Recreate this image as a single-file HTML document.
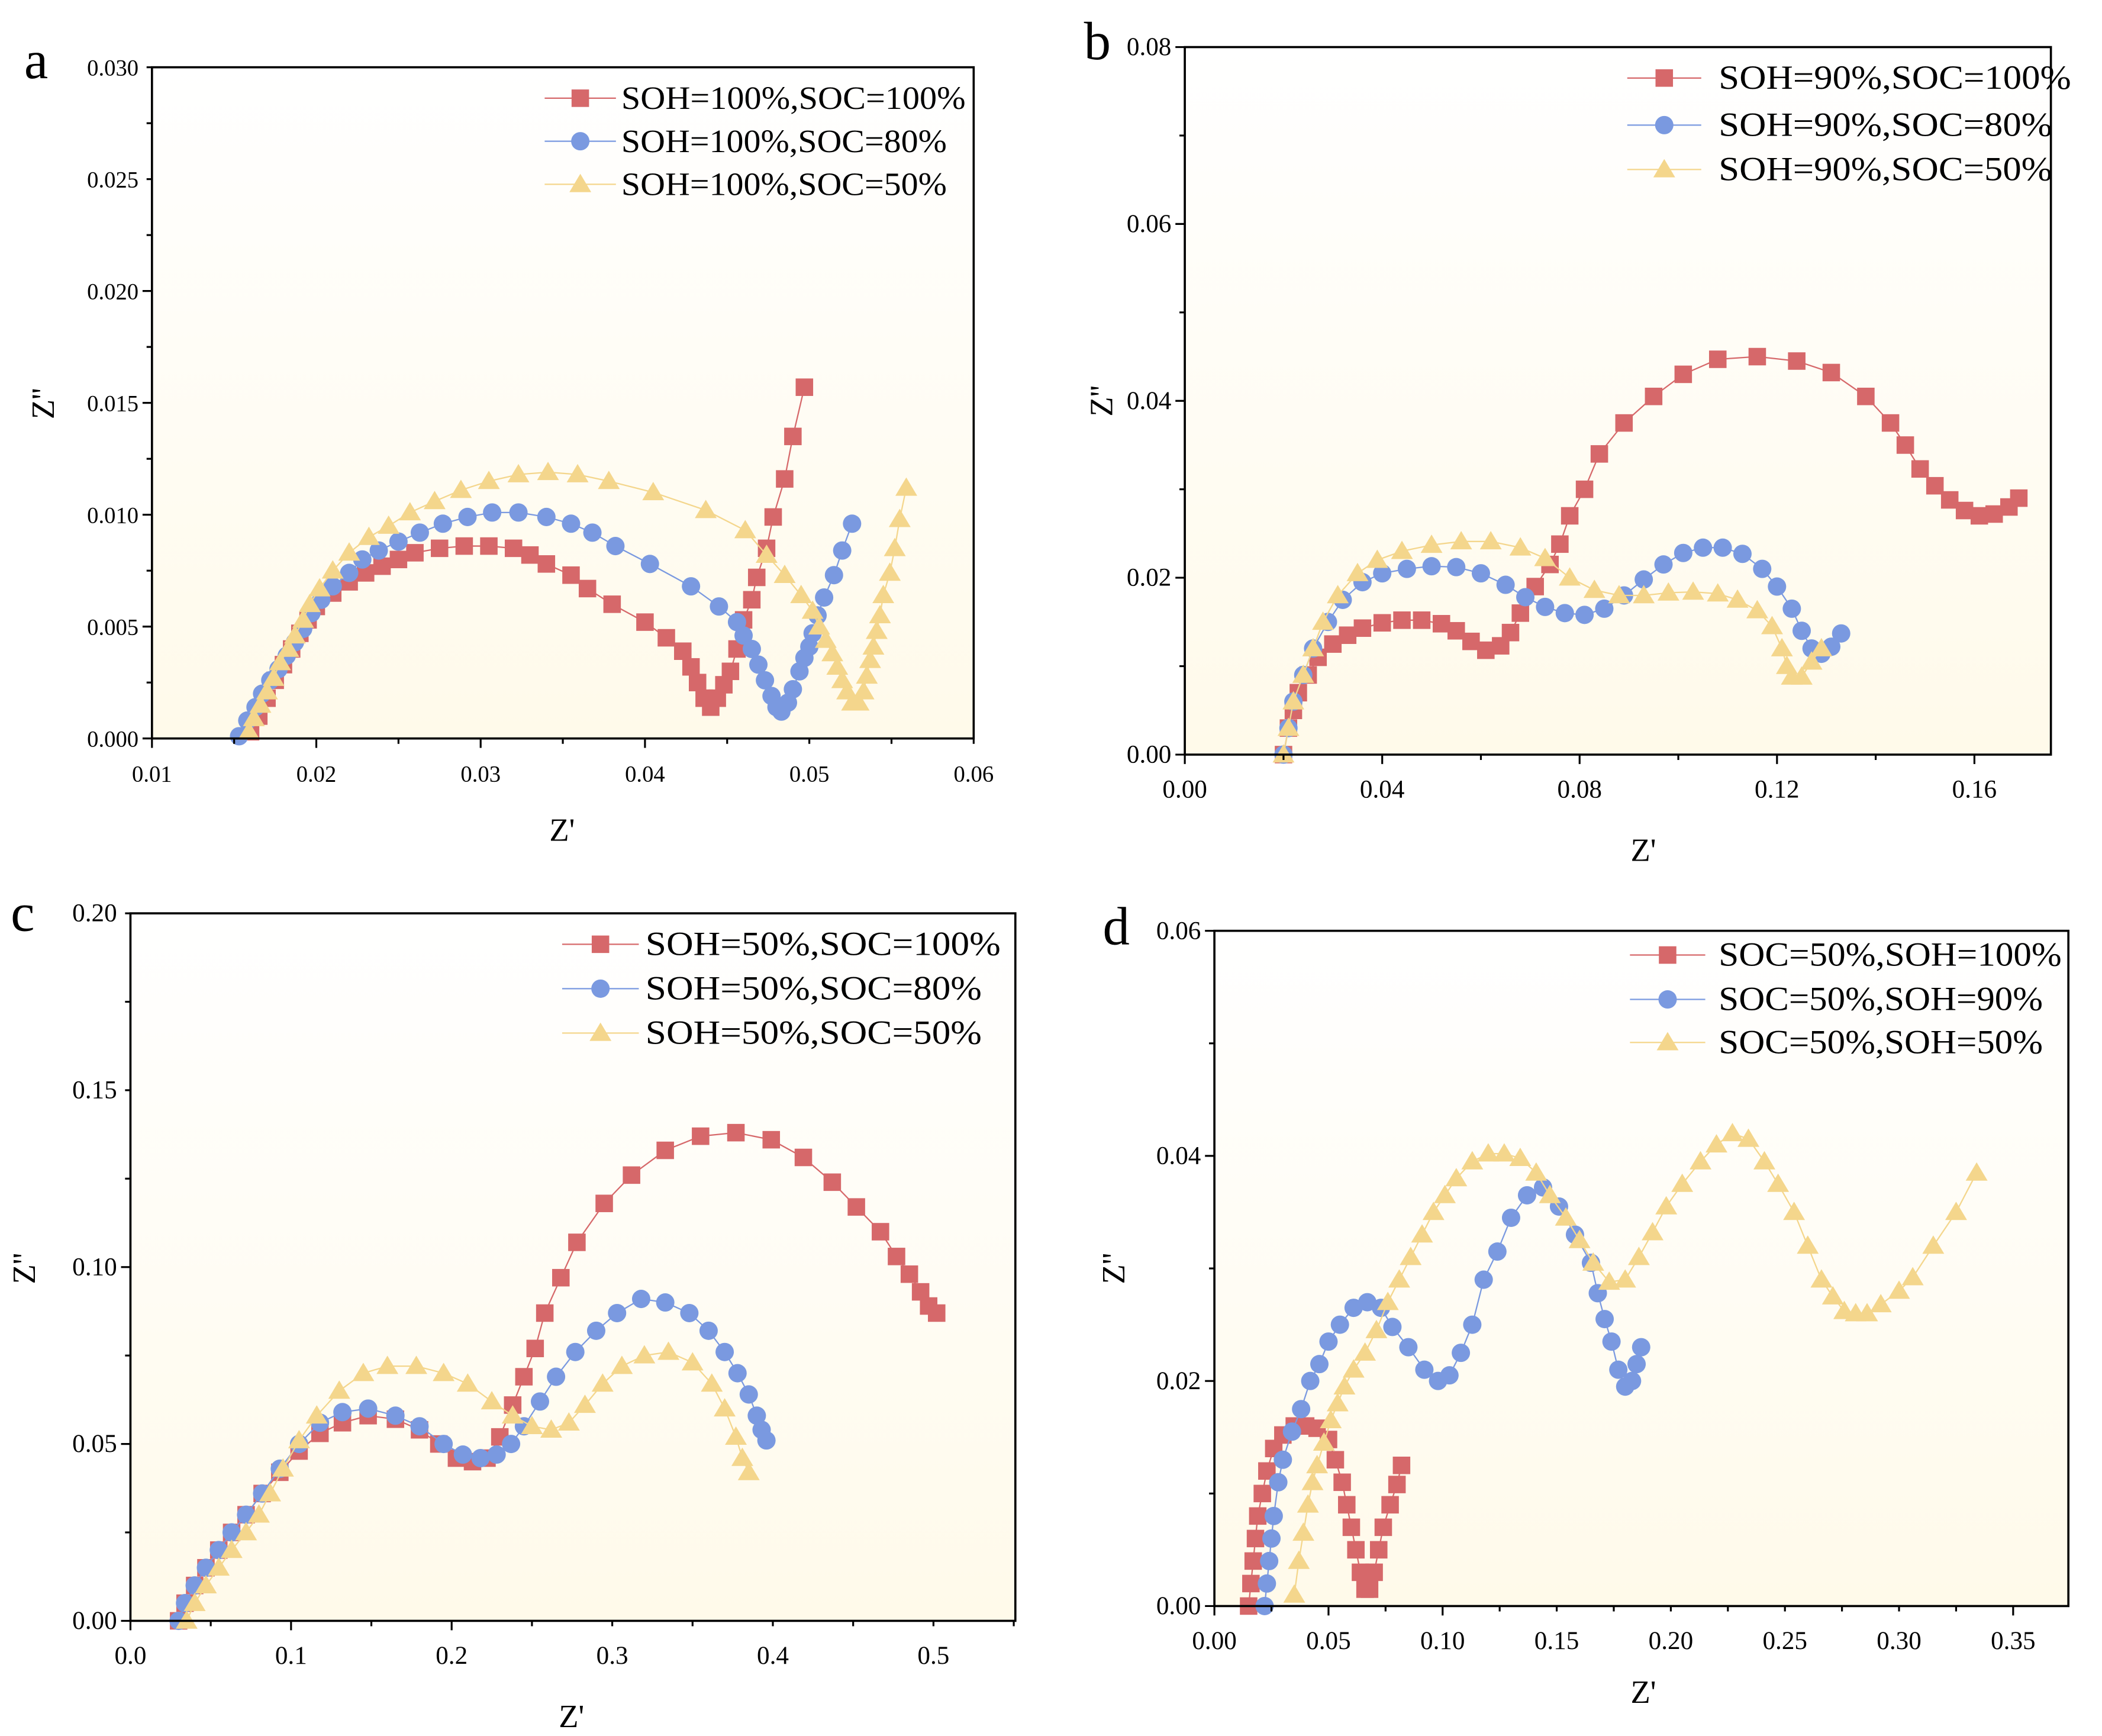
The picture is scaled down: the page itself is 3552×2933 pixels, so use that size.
<!DOCTYPE html>
<html><head><meta charset="utf-8"><style>
html,body{margin:0;padding:0;background:#fff}
svg{display:block}
text{font-family:"Liberation Serif",serif;fill:#000}
</style></head><body>
<svg id="fig" width="3552" height="2933" viewBox="0 0 1563 1290.6" xmlns="http://www.w3.org/2000/svg">
<defs>
<linearGradient id="bg" x1="0" y1="0" x2="0" y2="1"><stop offset="0" stop-color="#ffffff"/><stop offset="1" stop-color="#fffaea"/></linearGradient>
</defs>
</svg>
<script>
// ---- data (Z', Z'') ----
const aRedX=[0.0160,0.0165,0.017,0.0175,0.018,0.0185,0.019,0.0195,0.020,0.021,0.022,0.023,0.024,0.025,0.026,0.0275,0.029,0.0305,0.032,0.033,0.034,0.0355,0.0365,0.038,0.040,0.0413,0.0423,0.0428,0.0432,0.0436,0.044,0.0444,0.0448,0.0452,0.0456,0.046,0.0465,0.0468,0.0474,0.0478,0.0485,0.049,0.0497];
const aRedY=[0.0003,0.0010,0.0018,0.0026,0.0033,0.0040,0.0047,0.0053,0.0059,0.0065,0.0070,0.0074,0.0077,0.0080,0.0083,0.0085,0.0086,0.0086,0.0085,0.0082,0.0078,0.0073,0.0067,0.0060,0.0052,0.0045,0.0039,0.0032,0.0025,0.0018,0.0014,0.0018,0.0024,0.0030,0.0040,0.0053,0.0062,0.0072,0.0085,0.0099,0.0116,0.0135,0.0157];
const aBlueX=[0.0153,0.0158,0.0163,0.0167,0.0172,0.0177,0.0182,0.0187,0.0192,0.0197,0.0203,0.021,0.022,0.0228,0.0238,0.025,0.0263,0.0277,0.0292,0.0307,0.0323,0.034,0.0355,0.0368,0.0382,0.0403,0.0428,0.0445,0.0456,0.046,0.0465,0.0469,0.0473,0.0477,0.048,0.0483,0.0487,0.049,0.0494,0.0497,0.05,0.0502,0.0505,0.0509,0.0515,0.052,0.0526];
const aBlueY=[0.0001,0.0008,0.0014,0.0020,0.0026,0.0031,0.0037,0.0043,0.0049,0.0056,0.0062,0.0068,0.0074,0.0080,0.0084,0.0088,0.0092,0.0096,0.0099,0.0101,0.0101,0.0099,0.0096,0.0092,0.0086,0.0078,0.0068,0.0059,0.0052,0.0046,0.0040,0.0033,0.0026,0.0019,0.0014,0.0012,0.0016,0.0022,0.0030,0.0036,0.0041,0.0047,0.0055,0.0063,0.0073,0.0084,0.0096];
const aYelX=[0.0159,0.0162,0.0166,0.017,0.0174,0.0178,0.0183,0.0187,0.0192,0.0196,0.0202,0.021,0.022,0.0232,0.0244,0.0257,0.0272,0.0288,0.0305,0.0323,0.0341,0.0359,0.0378,0.0405,0.0437,0.0461,0.0474,0.0485,0.0495,0.0502,0.0506,0.051,0.0514,0.0517,0.052,0.0523,0.0526,0.053,0.0533,0.0535,0.0537,0.0539,0.0541,0.0543,0.0545,0.0549,0.0552,0.0555,0.0559];
const aYelY=[0.0003,0.0009,0.0015,0.0021,0.0027,0.0034,0.0040,0.0046,0.0053,0.0060,0.0067,0.0075,0.0083,0.0090,0.0095,0.0101,0.0106,0.0111,0.0115,0.0118,0.0119,0.0118,0.0115,0.0110,0.0102,0.0093,0.0082,0.0073,0.0064,0.0057,0.0050,0.0044,0.0038,0.0032,0.0026,0.0021,0.0016,0.0016,0.0021,0.0028,0.0035,0.0041,0.0048,0.0055,0.0064,0.0074,0.0085,0.0098,0.0112];

const bRedX=[0.020,0.021,0.022,0.023,0.025,0.027,0.030,0.033,0.036,0.040,0.044,0.048,0.052,0.055,0.058,0.061,0.064,0.066,0.068,0.071,0.074,0.076,0.078,0.081,0.084,0.089,0.095,0.101,0.108,0.116,0.124,0.131,0.138,0.143,0.146,0.149,0.152,0.155,0.158,0.161,0.164,0.167,0.169];
const bRedY=[0.000,0.003,0.005,0.007,0.009,0.011,0.0125,0.0135,0.0143,0.0149,0.0152,0.0152,0.0148,0.0140,0.0128,0.0118,0.0123,0.0138,0.0160,0.019,0.0215,0.0238,0.027,0.030,0.034,0.0375,0.0405,0.043,0.0447,0.0450,0.0445,0.0432,0.0405,0.0375,0.0350,0.0323,0.0304,0.0288,0.0276,0.0270,0.0272,0.0280,0.0290];
const bBlueX=[0.020,0.021,0.022,0.024,0.026,0.029,0.032,0.036,0.040,0.045,0.050,0.055,0.060,0.065,0.069,0.073,0.077,0.081,0.085,0.089,0.093,0.097,0.101,0.105,0.109,0.113,0.117,0.120,0.123,0.125,0.127,0.129,0.131,0.133];
const bBlueY=[0.000,0.003,0.006,0.009,0.012,0.015,0.0175,0.0195,0.0205,0.0210,0.0213,0.0212,0.0205,0.0192,0.0178,0.0167,0.0160,0.0158,0.0165,0.0180,0.0198,0.0215,0.0228,0.0234,0.0234,0.0227,0.0210,0.0190,0.0165,0.0140,0.0120,0.0114,0.0122,0.0137];
const bYelX=[0.020,0.021,0.022,0.024,0.026,0.028,0.031,0.035,0.039,0.044,0.050,0.056,0.062,0.068,0.073,0.078,0.083,0.088,0.093,0.098,0.103,0.108,0.112,0.116,0.119,0.121,0.122,0.123,0.125,0.127,0.129];
const bYelY=[0.000,0.003,0.006,0.009,0.012,0.015,0.018,0.0205,0.022,0.023,0.0237,0.0241,0.0241,0.0234,0.0222,0.020,0.0186,0.0180,0.0180,0.0183,0.0184,0.0182,0.0175,0.0163,0.0145,0.0120,0.0100,0.0088,0.0088,0.0105,0.0120];

const cRedX=[0.030,0.034,0.040,0.047,0.055,0.063,0.072,0.082,0.093,0.105,0.118,0.132,0.148,0.165,0.180,0.192,0.203,0.213,0.222,0.230,0.238,0.245,0.252,0.258,0.268,0.278,0.295,0.312,0.333,0.355,0.377,0.399,0.419,0.437,0.452,0.467,0.477,0.485,0.492,0.497,0.502];
const cRedY=[0.000,0.005,0.010,0.015,0.020,0.025,0.030,0.036,0.042,0.048,0.053,0.056,0.058,0.057,0.054,0.050,0.046,0.045,0.046,0.052,0.061,0.069,0.077,0.087,0.097,0.107,0.118,0.126,0.133,0.137,0.138,0.136,0.131,0.124,0.117,0.110,0.103,0.098,0.093,0.089,0.087];
const cBlueX=[0.030,0.034,0.040,0.047,0.055,0.063,0.072,0.082,0.093,0.105,0.118,0.132,0.148,0.165,0.180,0.195,0.207,0.218,0.228,0.237,0.245,0.255,0.265,0.277,0.290,0.303,0.318,0.333,0.348,0.360,0.370,0.378,0.385,0.390,0.393,0.396];
const cBlueY=[0.000,0.005,0.010,0.015,0.020,0.025,0.030,0.036,0.043,0.050,0.056,0.059,0.060,0.058,0.055,0.050,0.047,0.046,0.047,0.050,0.055,0.062,0.069,0.076,0.082,0.087,0.091,0.090,0.087,0.082,0.076,0.070,0.064,0.058,0.054,0.051];
const cYelX=[0.035,0.040,0.047,0.055,0.063,0.072,0.080,0.087,0.095,0.105,0.116,0.130,0.145,0.160,0.178,0.195,0.210,0.225,0.238,0.250,0.262,0.273,0.283,0.294,0.306,0.320,0.335,0.350,0.362,0.370,0.377,0.381,0.385];
const cYelY=[0.000,0.005,0.010,0.015,0.020,0.025,0.030,0.036,0.043,0.051,0.058,0.065,0.070,0.072,0.072,0.070,0.067,0.062,0.058,0.055,0.054,0.056,0.061,0.067,0.072,0.075,0.076,0.073,0.067,0.060,0.052,0.046,0.042];

const dRedX=[0.015,0.016,0.017,0.018,0.019,0.021,0.023,0.026,0.030,0.035,0.040,0.045,0.050,0.053,0.056,0.058,0.060,0.062,0.064,0.066,0.068,0.070,0.072,0.074,0.077,0.080,0.082];
const dRedY=[0.000,0.002,0.004,0.006,0.008,0.010,0.012,0.014,0.0152,0.016,0.016,0.0158,0.0148,0.013,0.011,0.009,0.007,0.005,0.003,0.0015,0.0015,0.003,0.005,0.007,0.009,0.0108,0.0125];
const dBlueX=[0.022,0.023,0.024,0.025,0.026,0.028,0.030,0.034,0.038,0.042,0.046,0.050,0.055,0.061,0.067,0.073,0.078,0.085,0.092,0.098,0.103,0.108,0.113,0.118,0.124,0.130,0.137,0.144,0.151,0.158,0.165,0.168,0.171,0.174,0.177,0.180,0.183,0.185,0.187];
const dBlueY=[0.000,0.002,0.004,0.006,0.008,0.011,0.013,0.0155,0.0175,0.020,0.0215,0.0235,0.025,0.0265,0.027,0.0265,0.0248,0.023,0.021,0.020,0.0205,0.0225,0.025,0.029,0.0315,0.0345,0.0365,0.0372,0.0355,0.0330,0.0305,0.0278,0.0255,0.0235,0.021,0.0195,0.020,0.0215,0.023];
const dYelX=[0.035,0.037,0.039,0.041,0.043,0.045,0.048,0.051,0.054,0.057,0.061,0.066,0.071,0.076,0.081,0.086,0.091,0.096,0.101,0.106,0.113,0.120,0.127,0.134,0.141,0.147,0.154,0.160,0.166,0.173,0.180,0.186,0.192,0.198,0.205,0.213,0.220,0.227,0.234,0.241,0.247,0.254,0.260,0.266,0.271,0.276,0.281,0.286,0.292,0.300,0.306,0.315,0.325,0.334];
const dYelY=[0.001,0.004,0.0065,0.009,0.011,0.0125,0.0145,0.0165,0.018,0.0195,0.021,0.0225,0.0245,0.027,0.029,0.031,0.033,0.035,0.0365,0.038,0.0395,0.0402,0.0402,0.0398,0.0385,0.0365,0.0345,0.0325,0.0305,0.0288,0.0290,0.031,0.0332,0.0355,0.0375,0.0395,0.041,0.042,0.0415,0.0395,0.0375,0.035,0.032,0.029,0.0275,0.0262,0.026,0.026,0.0268,0.028,0.0292,0.032,0.035,0.0385];

const aTicksX=[0.01,0.02,0.03,0.04,0.05,0.06], aTickLabX=["0.01","0.02","0.03","0.04","0.05","0.06"];
const aTicksY=[0,0.005,0.01,0.015,0.02,0.025,0.03], aTickLabY=["0.000","0.005","0.010","0.015","0.020","0.025","0.030"];
const bTicksX=[0,0.04,0.08,0.12,0.16], bTickLabX=["0.00","0.04","0.08","0.12","0.16"];
const bTicksY=[0,0.02,0.04,0.06,0.08], bTickLabY=["0.00","0.02","0.04","0.06","0.08"];
const cTicksX=[0,0.1,0.2,0.3,0.4,0.5], cTickLabX=["0.0","0.1","0.2","0.3","0.4","0.5"];
const cTicksY=[0,0.05,0.1,0.15,0.2], cTickLabY=["0.00","0.05","0.10","0.15","0.20"];
const dTicksX=[0,0.05,0.1,0.15,0.2,0.25,0.3,0.35], dTickLabX=["0.00","0.05","0.10","0.15","0.20","0.25","0.30","0.35"];
const dTicksY=[0,0.02,0.04,0.06], dTickLabY=["0.00","0.02","0.04","0.06"];

const RED="#d6686a", BLUE="#7a99e0", YEL="#f4d68c";
const NS="http://www.w3.org/2000/svg";
const svg=document.getElementById('fig');
function mk(tag,attrs,parent){const e=document.createElementNS(NS,tag);for(const k in attrs)e.setAttribute(k,attrs[k]);(parent||svg).appendChild(e);return e;}

function marker(g,type,x,y,color,s){
  let e;
  if(type==='sq'){e=mk('rect',{x:x-s,y:y-s,width:2*s,height:2*s,fill:color},g);}
  else if(type==='ci'){e=mk('circle',{cx:x,cy:y,r:s*1.05,fill:color},g);}
  else {e=mk('polygon',{points:`${x},${y-s*1.2} ${x-s*1.25},${y+s*0.9} ${x+s*1.25},${y+s*0.9}`,fill:color},g);}
  return e;
}

function panel(p){
  const g=mk('g',{});
  
  
  const sx=v=>p.L+(v-p.x0)/(p.x1-p.x0)*(p.R-p.L);
  const sy=v=>p.B-(v-p.y0)/(p.y1-p.y0)*(p.B-p.T);
  const bg=mk('rect',{x:p.L,y:p.T,width:p.R-p.L,height:p.B-p.T,fill:'url(#bg)'},g);
  
  
  p.series.forEach((s,si)=>{
    const sg=mk('g',{},g);
    
    
    let d='';
    s.x.forEach((xv,i)=>{d+=(i?'L':'M')+sx(xv).toFixed(2)+','+sy(s.y[i]).toFixed(2);});
    mk('path',{d:d,fill:'none',stroke:s.c,'stroke-width':1},sg);
    s.x.forEach((xv,i)=>{
      const m=marker(sg,s.m,sx(xv),sy(s.y[i]),s.c,p.ms);
      
      
    });
  });
  const fr=mk('rect',{x:p.L,y:p.T,width:p.R-p.L,height:p.B-p.T,fill:'none',stroke:'#000','stroke-width':1.6},g);
  
  
  const xa=mk('g',{},g);
  
  
  const mxs=(p.xt[1]-p.xt[0])/2;
  for(let v=p.xt[0];v<=p.x1+1e-9;v+=mxs){
    const X=sx(v); const major=Math.abs(((v-p.xt[0])/mxs)%2)<1e-6;
    if(X<p.L-0.5||X>p.R+0.5)continue;
    mk('line',{x1:X,x2:X,y1:p.B,y2:p.B+(major?7:4),stroke:'#000','stroke-width':1.4},xa);
  }
  p.xt.forEach((v,i)=>{
    const t=mk('text',{x:sx(v),y:p.B+32,'text-anchor':'middle','font-size':p.fs},xa);
    t.textContent=p.xl[i];
    
    
  });
  const ya=mk('g',{},g);
  
  
  const mys=(p.yt[1]-p.yt[0])/2;
  for(let v=p.yt[0];v<=p.y1+1e-9;v+=mys){
    const Y=sy(v); const major=Math.abs(((v-p.yt[0])/mys)%2)<1e-6;
    mk('line',{x1:p.L,x2:p.L-(major?7:4),y1:Y,y2:Y,stroke:'#000','stroke-width':1.4},ya);
  }
  p.yt.forEach((v,i)=>{
    const t=mk('text',{x:p.L-10,y:sy(v)+6,'text-anchor':'end','font-size':p.fs},ya);
    t.textContent=p.yl[i];
    
    
  });
  const xt=mk('text',{x:p.xtit[0],y:p.xtit[1],'text-anchor':'middle','font-size':24},g);
  xt.textContent="Z'";
  
  
  const yt=mk('text',{x:p.ytit[0],y:p.ytit[1],'text-anchor':'middle','font-size':24,transform:`rotate(-90 ${p.ytit[0]} ${p.ytit[1]})`},g);
  yt.textContent="Z''";
  
  
  const pl=mk('text',{x:p.lab[0],y:p.lab[1],'font-size':40},g);
  pl.textContent=p.id;
  
  
  const lg=mk('g',{},g);
  
  
  p.series.forEach((s,i)=>{
    const y=p.leg.y[i];
    const e=mk('g',{},lg);
    
    
    mk('line',{x1:p.leg.x0,x2:p.leg.x1,y1:y,y2:y,stroke:s.c,'stroke-width':1},e);
    marker(e,s.m,(p.leg.x0+p.leg.x1)/2,y,s.c,p.ms);
    const t=mk('text',{x:p.leg.tx,y:y+8,'font-size':p.leg.fs,textLength:p.leg.tw[i],lengthAdjust:'spacingAndGlyphs'},e);
    t.textContent=s.name;
  });
}

panel({id:'a',L:113,R:724,T:50,B:549,x0:0.01,x1:0.06,y0:0,y1:0.03,xt:aTicksX,xl:aTickLabX,yt:aTicksY,yl:aTickLabY,fs:17,ms:6.5,
  xtit:[418,625],ytit:[40,300],lab:[18,58],
  leg:{x0:405,x1:458,tx:462,fs:24,y:[73,105,137],tw:[256,242,242]},
  series:[{key:'a-soc100',name:'SOH=100%,SOC=100%',x:aRedX,y:aRedY,c:RED,m:'sq'},
          {key:'a-soc80',name:'SOH=100%,SOC=80%',x:aBlueX,y:aBlueY,c:BLUE,m:'ci'},
          {key:'a-soc50',name:'SOH=100%,SOC=50%',x:aYelX,y:aYelY,c:YEL,m:'tr'}]});
panel({id:'b',L:881,R:1525,T:35,B:561,x0:0,x1:0.1755,y0:0,y1:0.08,xt:bTicksX,xl:bTickLabX,yt:bTicksY,yl:bTickLabY,fs:19,ms:6.5,
  xtit:[1222,640],ytit:[827,298],lab:[806,44],
  leg:{x0:1210,x1:1265,tx:1278,fs:25,y:[58,93,126],tw:[262,248,248]},
  series:[{key:'b-soc100',name:'SOH=90%,SOC=100%',x:bRedX,y:bRedY,c:RED,m:'sq'},
          {key:'b-soc80',name:'SOH=90%,SOC=80%',x:bBlueX,y:bBlueY,c:BLUE,m:'ci'},
          {key:'b-soc50',name:'SOH=90%,SOC=50%',x:bYelX,y:bYelY,c:YEL,m:'tr'}]});
panel({id:'c',L:97,R:755,T:679,B:1205,x0:0,x1:0.551,y0:0,y1:0.2,xt:cTicksX,xl:cTickLabX,yt:cTicksY,yl:cTickLabY,fs:19,ms:6.5,
  xtit:[425,1284],ytit:[26,943],lab:[8,692],
  leg:{x0:418,x1:475,tx:480,fs:25,y:[702,735,768],tw:[264,250,250]},
  series:[{key:'c-soc100',name:'SOH=50%,SOC=100%',x:cRedX,y:cRedY,c:RED,m:'sq'},
          {key:'c-soc80',name:'SOH=50%,SOC=80%',x:cBlueX,y:cBlueY,c:BLUE,m:'ci'},
          {key:'c-soc50',name:'SOH=50%,SOC=50%',x:cYelX,y:cYelY,c:YEL,m:'tr'}]});
panel({id:'d',L:903,R:1538,T:692,B:1194,x0:0,x1:0.3742,y0:0,y1:0.06,xt:dTicksX,xl:dTickLabX,yt:dTicksY,yl:dTickLabY,fs:19,ms:6.5,
  xtit:[1222,1266],ytit:[836,943],lab:[820,702],
  leg:{x0:1212,x1:1268,tx:1278,fs:25,y:[710,743,775],tw:[255,241,241]},
  series:[{key:'d-soh100',name:'SOC=50%,SOH=100%',x:dRedX,y:dRedY,c:RED,m:'sq'},
          {key:'d-soh90',name:'SOC=50%,SOH=90%',x:dBlueX,y:dBlueY,c:BLUE,m:'ci'},
          {key:'d-soh50',name:'SOC=50%,SOH=50%',x:dYelX,y:dYelY,c:YEL,m:'tr'}]});
</script>
</body></html>
